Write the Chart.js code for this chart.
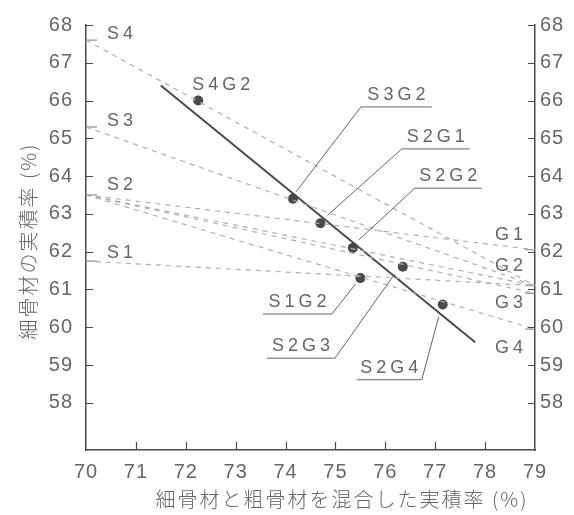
<!DOCTYPE html>
<html>
<head>
<meta charset="utf-8">
<script src="https://cdn.jsdelivr.net/npm/chart.js@4.4.0/dist/chart.umd.min.js"></script>
<style>
  html, body { margin: 0; padding: 0; background: #fff; }
</style>
</head>
<body>
<canvas id="chart" width="574" height="515"></canvas>
<script>
// 細骨材 S1〜S4 と粗骨材 G1〜G4 の実積率 (%)
const sandNames = ['S1', 'S2', 'S3', 'S4'];
const sandRates = [61.75, 63.5, 65.3, 67.6];
const gravelNames = ['G1', 'G2', 'G3', 'G4'];
const gravelRates = [62.05, 61.1, 60.9, 59.95];

// 混合試料の実測値 (x: 混合した実積率, y: 細骨材の実積率)
const mixNames = ['S4G2', 'S3G2', 'S2G1', 'S2G2', 'S1G2', 'S2G3', 'S2G4'];
const mixX = [72.25, 74.15, 74.7, 75.35, 75.5, 76.35, 77.15];
const mixY = [66.0, 63.4, 62.75, 62.1, 61.3, 61.6, 60.6];

// 回帰直線の両端
const trendX = [71.5, 77.8];
const trendY = [66.4, 59.6];

const xTicks = [70, 71, 72, 73, 74, 75, 76, 77, 78, 79];
const yTicks = [58, 59, 60, 61, 62, 63, 64, 65, 66, 67, 68];

const xTitle = '細骨材と粗骨材を混合した実積率 (%)';
const yTitle = '細骨材の実積率 (%)';

const ink = '#4a4a4a';
const textGray = '#666';
const dashGray = '#b0b0b0';
const numFont = '"Liberation Sans", Arial, sans-serif';
const cjkFont = '"Noto Sans CJK JP", sans-serif';

// S・G ラベルのずらし量 (px)
const sandLabelDy = [-8, -10, -6, -6];
const gravelLabelDy = [-15, -20, 10, 19];

// 引出線つきラベル: 折れ点 (データ座標), 下線の向きと長さ, 点からの引出位置 (px)
const callouts = {
  S3G2: { x: 75.51, y: 65.83, side: 1, len: 71, lead: [3, -7] },
  S2G1: { x: 76.33, y: 64.72, side: 1, len: 68, lead: [7, -8] },
  S2G2: { x: 76.59, y: 63.68, side: 1, len: 67, lead: [6, -8] },
  S1G2: { x: 74.93, y: 60.35, side: -1, len: 69, lead: [-5, 6] },
  S2G3: { x: 74.99, y: 59.18, side: -1, len: 68, lead: [-8, 7] },
  S2G4: { x: 76.73, y: 58.61, side: -1, len: 65, lead: [-4, 12] }
};

// 各混合の S-G 結線 (点線)
const mixLines = mixNames.map(name => {
  const s = sandRates[Number(name[1]) - 1];
  const g = gravelRates[Number(name[3]) - 1];
  return {
    type: 'line',
    data: [{ x: 70, y: s }, { x: 79, y: g }],
    borderColor: dashGray,
    borderWidth: 1.2,
    borderDash: [5, 5],
    pointRadius: 0
  };
});

// 軸上の S・G の目印
const sandMarks = sandRates.map(s => ({
  type: 'line',
  data: [{ x: 70, y: s }, { x: 70.22, y: s }],
  borderColor: '#777', borderWidth: 1, pointRadius: 0
}));
const gravelMarks = gravelRates.map(g => ({
  type: 'line',
  data: [{ x: 78.8, y: g }, { x: 79, y: g }],
  borderColor: '#777', borderWidth: 1, pointRadius: 0
}));

function spacedText(ctx, str, cx, cy, spacing) {
  ctx.letterSpacing = spacing + 'px';
  const w = ctx.measureText(str).width - spacing;
  ctx.textAlign = 'left';
  ctx.fillText(str, cx - w / 2, cy);
  ctx.letterSpacing = '0px';
}

const decor = {
  id: 'decor',
  beforeDraw(chart) {
    chart.ctx.letterSpacing = '1px';
  },
  afterDatasetsDraw(chart) {
    const ctx = chart.ctx;
    const xs = chart.scales.x, ys = chart.scales.y;
    const { left, right, bottom } = chart.chartArea;
    ctx.save();
    ctx.letterSpacing = '0px';

    // 内向きの目盛
    ctx.strokeStyle = ink;
    ctx.lineWidth = 1.2;
    ctx.beginPath();
    yTicks.forEach(v => {
      const py = Math.round(ys.getPixelForValue(v)) + 0.5;
      ctx.moveTo(left, py); ctx.lineTo(left + 7, py);
      ctx.moveTo(right - 7, py); ctx.lineTo(right, py);
    });
    xTicks.slice(1, -1).forEach(v => {
      const px = Math.round(xs.getPixelForValue(v)) + 0.5;
      ctx.moveTo(px, bottom); ctx.lineTo(px, bottom - 8);
    });
    ctx.stroke();

    ctx.fillStyle = textGray;
    ctx.font = '18px ' + numFont;
    ctx.textBaseline = 'middle';

    // S1〜S4, G1〜G4
    sandNames.forEach((n, i) => {
      const py = ys.getPixelForValue(sandRates[i]) + sandLabelDy[i];
      ctx.letterSpacing = '4px';
      ctx.textAlign = 'left';
      ctx.fillText(n, left + 21, py);
    });
    gravelNames.forEach((n, i) => {
      const py = ys.getPixelForValue(gravelRates[i]) + gravelLabelDy[i];
      ctx.letterSpacing = '4px';
      ctx.textAlign = 'left';
      ctx.fillText(n, right - 40, py);
    });
    ctx.letterSpacing = '0px';

    // 混合試料のラベル
    ctx.strokeStyle = '#666';
    ctx.lineWidth = 1;
    mixNames.forEach((name, i) => {
      const px = xs.getPixelForValue(mixX[i]);
      const py = ys.getPixelForValue(mixY[i]);
      const c = callouts[name];
      if (!c) {
        spacedText(ctx, name, px + 23, py - 16, 4);
        return;
      }
      const cx = xs.getPixelForValue(c.x);
      const cy = ys.getPixelForValue(c.y);
      const ex = cx + c.side * c.len;
      ctx.beginPath();
      ctx.moveTo(px + c.lead[0], py + c.lead[1]);
      ctx.lineTo(cx, cy);
      ctx.lineTo(ex, cy);
      ctx.stroke();
      spacedText(ctx, name, (cx + ex) / 2, cy - 12, 4);
    });
    ctx.restore();
  },
  afterDraw(chart) {
    const ctx = chart.ctx;
    ctx.save();
    ctx.fillStyle = textGray;
    ctx.font = '300 20px ' + cjkFont;
    ctx.textBaseline = 'middle';
    spacedText(ctx, xTitle, 341, 499, 2);
    ctx.translate(28, 242);
    ctx.rotate(-Math.PI / 2);
    spacedText(ctx, yTitle, 0, 0, 2);
    ctx.restore();
  }
};

const tickStyle = { color: textGray, font: { family: numFont, size: 20 } };
const borderStyle = { display: true, color: ink, width: 1.5 };

new Chart(document.getElementById('chart'), {
  data: {
    datasets: [
      ...mixLines,
      ...sandMarks,
      ...gravelMarks,
      {
        type: 'line',
        data: trendX.map((x, i) => ({ x, y: trendY[i] })),
        borderColor: ink,
        borderWidth: 2,
        pointRadius: 0
      },
      {
        type: 'scatter',
        data: mixX.map((x, i) => ({ x, y: mixY[i] })),
        backgroundColor: ink,
        borderWidth: 0,
        pointRadius: 5
      }
    ]
  },
  options: {
    responsive: false,
    animation: false,
    devicePixelRatio: 1,
    layout: { padding: { top: 15, left: 0, right: 0, bottom: 0 } },
    plugins: {
      legend: { display: false },
      tooltip: { enabled: false }
    },
    scales: {
      x: {
        type: 'linear',
        min: 70,
        max: 79,
        afterBuildTicks: s => { s.ticks = xTicks.map(v => ({ value: v })); },
        afterFit: s => { s.height = 65; },
        ticks: { ...tickStyle, padding: 10, maxRotation: 0, autoSkip: false },
        grid: { display: false, drawTicks: false },
        border: borderStyle
      },
      y: {
        type: 'linear',
        position: 'left',
        min: 56.75,
        max: 68,
        afterBuildTicks: s => { s.ticks = yTicks.map(v => ({ value: v })); },
        afterFit: s => { s.width = 86; },
        ticks: { ...tickStyle, padding: 13 },
        grid: { display: false, drawTicks: false },
        border: borderStyle
      },
      y2: {
        type: 'linear',
        position: 'right',
        min: 56.75,
        max: 68,
        afterBuildTicks: s => { s.ticks = yTicks.map(v => ({ value: v })); },
        afterFit: s => { s.width = 39; },
        ticks: { ...tickStyle, padding: 5 },
        grid: { display: false, drawTicks: false },
        border: borderStyle
      }
    }
  },
  plugins: [decor]
});
</script>
</body>
</html>
